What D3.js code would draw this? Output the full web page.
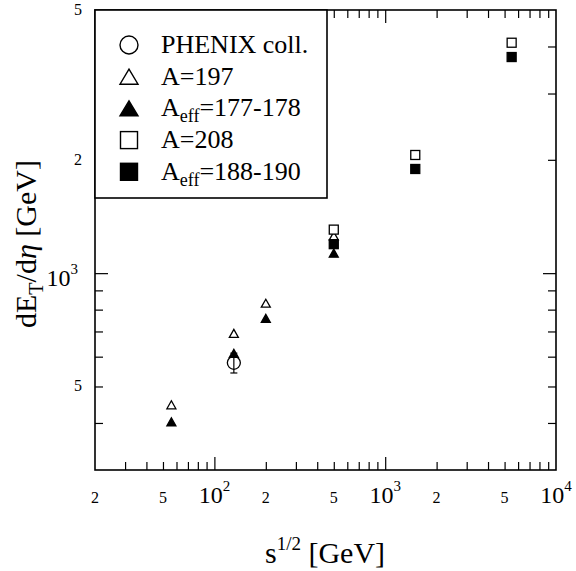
<!DOCTYPE html>
<html>
<head>
<meta charset="utf-8">
<script src="https://cdn.jsdelivr.net/npm/d3@7"></script>
<style>
  html, body { margin: 0; padding: 0; background: #fff; }
  svg { display: block; font-family: "Liberation Serif", "Times New Roman", serif; }
</style>
</head>
<body>
<svg id="chart" width="576" height="571"></svg>
<script>
// Collision energies (GeV)
const rhicEnergies = [56, 130, 200, 500];
const lhcEnergies = [500, 1500, 5500];

// Transverse energy per unit pseudorapidity (GeV)
const a197 = [447, 692, 832, 1256];
const aEff177 = [403, 612, 758, 1130];
const a208 = [1305, 2060, 4093];
const aEff188 = [1194, 1891, 3750];

// PHENIX measurement at 130 GeV
const phenixEnergy = [130];
const phenixValue = [578];
const phenixError = [35];

// Axis tick labels
const xTickValues = [20, 50, 100, 200, 500, 1000, 2000, 5000, 10000];
const xTickLabels = ["2", "5", "10^2", "2", "5", "10^3", "2", "5", "10^4"];
const yTickValues = [500, 1000, 2000, 5000];
const yTickLabels = ["5", "10^3", "2", "5"];

const svg = d3.select("#chart");
const plotLeft = 95, plotRight = 556, plotTop = 10, plotBottom = 470;

const x = d3.scaleLog().domain([20, 10000]).range([plotLeft, plotRight]);
const y = d3.scaleLog().domain([300, 5000]).range([plotBottom, plotTop]);

// Minor/major tick values on each log axis
const xMinor = [], xMajor = [100, 1000];
[10, 100, 1000].forEach(d => { for (let k = 2; k <= 9; k++) { const v = d * k; if (v > 20 && v < 10000) xMinor.push(v); } });
const yMinor = [], yMajor = [1000];
[100, 1000].forEach(d => { for (let k = 2; k <= 9; k++) { const v = d * k; if (v > 300 && v < 5000) yMinor.push(v); } });

const minorLen = 8, majorLen = 13;
function tickAxis(axisFn, scale, values, len, transform) {
  const g = svg.append("g").attr("transform", transform)
    .call(axisFn(scale).tickValues(values).tickSize(len).tickSizeOuter(0).tickFormat(""));
  g.select(".domain").remove();
  g.selectAll("line").attr("stroke", "#000").attr("stroke-width", 1.2);
  return g;
}
tickAxis(d3.axisBottom, x, xMinor, -minorLen, `translate(0,${plotBottom})`);
tickAxis(d3.axisBottom, x, xMajor, -majorLen, `translate(0,${plotBottom})`);
tickAxis(d3.axisTop, x, xMinor, -minorLen, `translate(0,${plotTop})`);
tickAxis(d3.axisTop, x, xMajor, -majorLen, `translate(0,${plotTop})`);
tickAxis(d3.axisLeft, y, yMinor, -minorLen, `translate(${plotLeft},0)`);
tickAxis(d3.axisLeft, y, yMajor, -majorLen, `translate(${plotLeft},0)`);
tickAxis(d3.axisRight, y, yMinor, -minorLen, `translate(${plotRight},0)`);
tickAxis(d3.axisRight, y, yMajor, -majorLen, `translate(${plotRight},0)`);

// Frame
svg.append("rect").attr("x", plotLeft).attr("y", plotTop)
  .attr("width", plotRight - plotLeft).attr("height", plotBottom - plotTop)
  .attr("fill", "none").attr("stroke", "#000").attr("stroke-width", 1.6);

// Tick label helper: "10^3" becomes 10 with a superscript
function tickLabel(g, label) {
  const parts = label.split("^");
  if (parts.length === 1) {
    g.append("tspan").attr("font-size", 16).text(parts[0]);
  } else {
    g.append("tspan").attr("font-size", 24).text(parts[0]);
    g.append("tspan").attr("font-size", 15).attr("dy", -12).text(parts[1]);
  }
}

xTickValues.forEach((v, i) => {
  const t = svg.append("text").attr("x", x(v)).attr("y", 503)
    .attr("text-anchor", "middle").attr("fill", "#000");
  tickLabel(t, xTickLabels[i]);
});
yTickValues.forEach((v, i) => {
  const big = yTickLabels[i].includes("^");
  const t = svg.append("text").attr("x", big ? 78 : 82).attr("y", y(v) + (big ? 13 : 5))
    .attr("text-anchor", "end").attr("fill", "#000");
  tickLabel(t, yTickLabels[i]);
});

// Axis titles
const xt = svg.append("text").attr("x", 325).attr("y", 563)
  .attr("text-anchor", "middle").attr("font-size", 30).attr("fill", "#000");
xt.append("tspan").text("s");
xt.append("tspan").attr("font-size", 19).attr("dy", -13).text("1/2");
xt.append("tspan").attr("dy", 13).text(" [GeV]");

const yt = svg.append("text").attr("transform", "translate(36,244) rotate(-90)")
  .attr("text-anchor", "middle").attr("font-size", 30).attr("fill", "#000");
yt.append("tspan").text("dE");
yt.append("tspan").attr("font-size", 20).attr("dy", 7).text("T");
yt.append("tspan").attr("dy", -7).text("/d");
yt.append("tspan").attr("font-style", "italic").text("η");
yt.append("tspan").text(" [GeV]");

// Marker shapes
function triPath(cx, cy, w, h) {
  return `M${cx - w / 2},${cy + h / 2}L${cx + w / 2},${cy + h / 2}L${cx},${cy - h / 2}Z`;
}
const plot = svg.append("g");

function drawTriangles(xs, ys, filled) {
  plot.selectAll(null).data(xs.map((e, i) => [e, ys[i]])).enter().append("path")
    .attr("d", d => triPath(x(d[0]), y(d[1]), 9, 8))
    .attr("fill", filled ? "#000" : "#fff")
    .attr("stroke", "#000").attr("stroke-width", 1.3);
}
function drawSquares(xs, ys, filled) {
  plot.selectAll(null).data(xs.map((e, i) => [e, ys[i]])).enter().append("rect")
    .attr("x", d => x(d[0]) - 4.5).attr("y", d => y(d[1]) - 4.5)
    .attr("width", 9).attr("height", 9)
    .attr("fill", filled ? "#000" : "#fff")
    .attr("stroke", "#000").attr("stroke-width", 1.3);
}

// PHENIX point with error bar
phenixEnergy.forEach((e, i) => {
  const cx = x(e), lo = y(phenixValue[i] - phenixError[i]), hi = y(phenixValue[i] + phenixError[i]);
  plot.append("line").attr("x1", cx).attr("x2", cx).attr("y1", lo).attr("y2", hi)
    .attr("stroke", "#000").attr("stroke-width", 1.2);
  [lo, hi].forEach(yy => plot.append("line").attr("x1", cx - 3.5).attr("x2", cx + 3.5)
    .attr("y1", yy).attr("y2", yy).attr("stroke", "#000").attr("stroke-width", 1.2));
  plot.append("circle").attr("cx", cx).attr("cy", y(phenixValue[i])).attr("r", 6.5)
    .attr("fill", "none").attr("stroke", "#000").attr("stroke-width", 1.3);
});

drawTriangles(rhicEnergies, a197, false);
drawTriangles(rhicEnergies, aEff177, true);
drawSquares(lhcEnergies, a208, false);
drawSquares(lhcEnergies, aEff188, true);

// Legend
const legend = svg.append("g");
legend.append("rect").attr("x", 95).attr("y", 10).attr("width", 232).attr("height", 188)
  .attr("fill", "#fff").attr("stroke", "#000").attr("stroke-width", 1.6);

const legendItems = [
  { type: "circle", label: ["PHENIX coll."] },
  { type: "tri-open", label: ["A=197"] },
  { type: "tri-fill", label: ["A", "eff", "=177-178"] },
  { type: "sq-open", label: ["A=208"] },
  { type: "sq-fill", label: ["A", "eff", "=188-190"] }
];
legendItems.forEach((it, i) => {
  const cy = 45 + i * 31.7, cx = 129;
  if (it.type === "circle") {
    legend.append("circle").attr("cx", cx).attr("cy", cy).attr("r", 9)
      .attr("fill", "none").attr("stroke", "#000").attr("stroke-width", 1.4);
  } else if (it.type.startsWith("tri")) {
    legend.append("path").attr("d", triPath(cx, cy, 18, 15))
      .attr("fill", it.type === "tri-fill" ? "#000" : "#fff")
      .attr("stroke", "#000").attr("stroke-width", 1.4);
  } else {
    legend.append("rect").attr("x", cx - 8.5).attr("y", cy - 8.5).attr("width", 17).attr("height", 17)
      .attr("fill", it.type === "sq-fill" ? "#000" : "#fff")
      .attr("stroke", "#000").attr("stroke-width", 1.4);
  }
  const t = legend.append("text").attr("x", 161).attr("y", cy + 8)
    .attr("font-size", 26).attr("fill", "#000");
  t.append("tspan").text(it.label[0]);
  if (it.label.length > 1) {
    t.append("tspan").attr("font-size", 18).attr("dy", 6).text(it.label[1]);
    t.append("tspan").attr("dy", -6).text(it.label[2]);
  }
});
</script>
</body>
</html>
